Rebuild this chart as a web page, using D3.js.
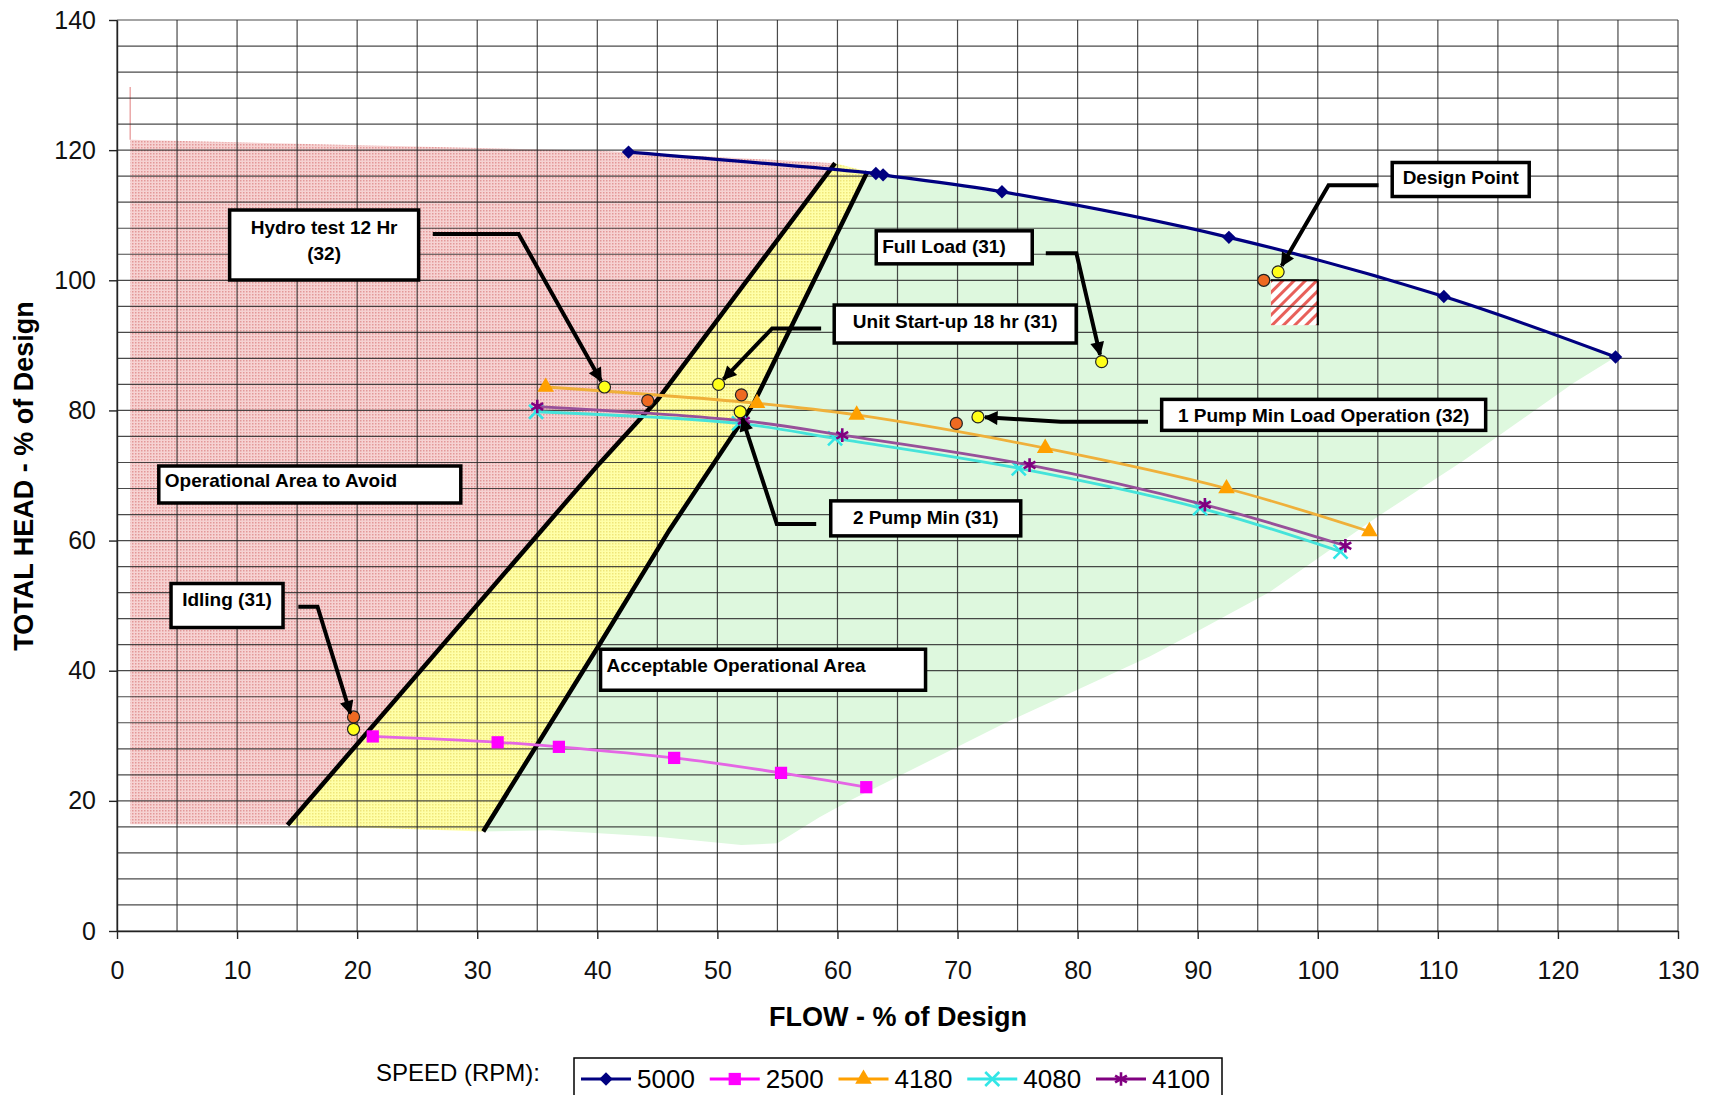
<!DOCTYPE html>
<html>
<head>
<meta charset="utf-8">
<script src="https://cdn.jsdelivr.net/npm/d3@7"></script>
<style>
  body { margin: 0; background: #fff; }
  svg { display: block; font-family: "Liberation Sans", Arial, sans-serif; }
</style>
</head>
<body>
<div id="chart"></div>
<script>
// ---- data ----
const speeds = ["5000", "2500", "4180", "4080", "4100"];

const flow5000 = [42.6, 63.2, 63.8, 73.7, 92.6, 110.5, 124.8];
const head5000 = [119.7, 116.4, 116.2, 113.6, 106.6, 97.5, 88.2];
const flow2500 = [21.3, 31.7, 36.8, 46.4, 55.3, 62.4];
const head2500 = [29.9, 29.0, 28.3, 26.6, 24.3, 22.1];
const flow4180 = [35.7, 53.3, 61.6, 77.3, 92.4, 104.3];
const head4180 = [83.6, 81.1, 79.3, 74.2, 68.0, 61.4];
const flow4080 = [34.9, 51.8, 59.8, 75.1, 90.2, 101.9];
const head4080 = [79.8, 78.0, 75.7, 71.1, 65.0, 58.3];
const flow4100 = [35.0, 52.2, 60.4, 76.0, 90.6, 102.3];
const head4100 = [80.6, 78.4, 76.2, 71.6, 65.5, 59.2];

// operating points
const yellowFlow = [19.7, 40.6, 50.1, 51.9, 71.7, 82.0, 96.7];
const yellowHead = [31.0, 83.6, 84.0, 79.8, 79.0, 87.5, 101.3];
const orangeFlow = [19.7, 44.2, 52.0, 69.9, 95.5];
const orangeHead = [32.9, 81.5, 82.4, 78.0, 100.0];

// zones (flow, head)
const avoidArea = [[1.1, 16.4], [1.1, 121.6], [10, 121.2], [40.2, 119.9], [59.8, 118.0], [45.0, 81.6], [40.2, 71.9], [34.9, 60.6], [14.2, 16.3]];
const avoidEdge = [[1.1, 121.6], [1.1, 129.7]];
const leftBound = [[14.2, 16.3], [34.9, 60.6], [40.2, 71.9], [45.0, 81.6], [59.8, 118.0]];
const rightBound = [[30.5, 15.3], [40.0, 43.5], [46.0, 61.6], [53.0, 81.0], [62.5, 116.7]];
const greenEdge = [[30.5, 15.3], [36, 15.5], [45, 14.5], [52, 13.2], [55, 13.5], [58.5, 17.5], [61, 20], [74, 32], [86, 42.2], [90.2, 46.3], [96, 52.1], [105, 63.7], [112, 72.1], [121.3, 84.2], [124.8, 88.2]];
const hatchArea = [[96.1, 93.1], [100, 100]];

const xTicks = d3.range(0, 131, 10);
const yTicks = d3.range(0, 141, 20);

// ---- layout ----
const W = 1719, H = 1095;
const svg = d3.select("#chart").append("svg").attr("width", W).attr("height", H);
const x = d3.scaleLinear().domain([0, 130]).range([117, 1678]);
const y = d3.scaleLinear().domain([0, 140]).range([931, 20]);
const line = d3.line().x(d => x(d[0])).y(d => y(d[1]));

const defs = svg.append("defs");
function dots(id, bg, dot) {
  const p = defs.append("pattern").attr("id", id).attr("patternUnits", "userSpaceOnUse")
    .attr("width", 3).attr("height", 3);
  p.append("rect").attr("width", 3).attr("height", 3).attr("fill", bg);
  p.append("rect").attr("width", 1.5).attr("height", 1.5).attr("fill", dot);
}
dots("redDots", "#F6D2D2", "#E39898");
dots("yellowDots", "#FFFFA8", "#EFE67A");
const hp = defs.append("pattern").attr("id", "hatch").attr("patternUnits", "userSpaceOnUse")
  .attr("width", 8).attr("height", 8).attr("patternTransform", "rotate(45)");
hp.append("rect").attr("width", 8).attr("height", 8).attr("fill", "#fff");
hp.append("rect").attr("width", 3).attr("height", 8).attr("fill", "#E8605A");
defs.append("marker").attr("id", "arrow").attr("viewBox", "0 0 10 10")
  .attr("refX", 9).attr("refY", 5).attr("markerUnits", "userSpaceOnUse")
  .attr("markerWidth", 17).attr("markerHeight", 14).attr("orient", "auto")
  .append("path").attr("d", "M0,0 L10,5 L0,10 Z").attr("fill", "#000");

// zones
const pts5000 = flow5000.map((f, i) => [f, head5000[i]]);
const greenArea = greenEdge
  .concat(pts5000.filter(d => d[0] > 63).reverse())
  .concat(rightBound.slice().reverse());
const yellowArea = leftBound.concat(rightBound.slice().reverse());

svg.append("path").attr("d", line(greenArea) + "Z").attr("fill", "#DEF8DE");
svg.append("path").attr("d", line(avoidArea) + "Z").attr("fill", "url(#redDots)");
svg.append("path").attr("d", line(yellowArea) + "Z").attr("fill", "url(#yellowDots)");
svg.append("path").attr("d", line(avoidEdge)).attr("stroke", "#EBA8A8").attr("stroke-width", 1.5);
svg.append("rect")
  .attr("x", x(hatchArea[0][0])).attr("y", y(hatchArea[1][1]))
  .attr("width", x(hatchArea[1][0]) - x(hatchArea[0][0]))
  .attr("height", y(hatchArea[0][1]) - y(hatchArea[1][1]))
  .attr("fill", "url(#hatch)");

// grid
const grid = svg.append("g").attr("stroke", "#2a2a2a").attr("stroke-width", 1.2).attr("stroke-opacity", 0.85);
grid.selectAll(".gx").data(d3.range(0, 131, 5)).join("line")
  .attr("x1", d => x(d)).attr("x2", d => x(d)).attr("y1", y(0)).attr("y2", y(140));
grid.selectAll(".gy").data(d3.range(0, 141, 4)).join("line")
  .attr("x1", x(0)).attr("x2", x(130)).attr("y1", d => y(d)).attr("y2", d => y(d));

// design point corner
svg.append("path")
  .attr("d", line([[hatchArea[0][0], hatchArea[1][1]], [hatchArea[1][0], hatchArea[1][1]], [hatchArea[1][0], hatchArea[0][1]]]))
  .attr("fill", "none").attr("stroke", "#000").attr("stroke-width", 2);

// zone boundaries
[leftBound, rightBound].forEach(b => {
  svg.append("path").attr("d", line(b)).attr("fill", "none")
    .attr("stroke", "#000").attr("stroke-width", 4.5);
});

// speed curves
const series = [
  { name: speeds[0], flow: flow5000, head: head5000, color: "#000080", line: "#000080", sym: "diamond" },
  { name: speeds[1], flow: flow2500, head: head2500, color: "#FF00FF", line: "#E466E4", sym: "square" },
  { name: speeds[2], flow: flow4180, head: head4180, color: "#FFA000", line: "#EFB03A", sym: "triangle" },
  { name: speeds[3], flow: flow4080, head: head4080, color: "#33E6E6", line: "#45E3DA", sym: "times" },
  { name: speeds[4], flow: flow4100, head: head4100, color: "#800080", line: "#97509A", sym: "asterisk" }
];
const curve = d3.line().x(d => x(d[0])).y(d => y(d[1])).curve(d3.curveCatmullRom.alpha(0.5));

function drawSymbol(g, type, color, cx, cy) {
  if (type === "diamond") {
    g.append("path").attr("d", d3.symbol(d3.symbolSquare, 90)())
      .attr("transform", `translate(${cx},${cy}) rotate(45)`).attr("fill", color);
  } else if (type === "square") {
    g.append("path").attr("d", d3.symbol(d3.symbolSquare, 150)())
      .attr("transform", `translate(${cx},${cy})`).attr("fill", color);
  } else if (type === "triangle") {
    g.append("path").attr("d", d3.symbol(d3.symbolTriangle, 120)())
      .attr("transform", `translate(${cx},${cy})`).attr("fill", color);
  } else {
    const s = type === "times" ? d3.symbolTimes : d3.symbolAsterisk;
    g.append("path").attr("d", d3.symbol(s, 130)())
      .attr("transform", `translate(${cx},${cy})`).attr("fill", "none")
      .attr("stroke", color).attr("stroke-width", 2.6);
  }
}

series.forEach(s => {
  const pts = s.flow.map((f, i) => [f, s.head[i]]);
  svg.append("path").attr("d", curve(pts)).attr("fill", "none")
    .attr("stroke", s.line).attr("stroke-width", s.name === "5000" ? 3.2 : 2.8);
  const g = svg.append("g");
  pts.forEach(p => drawSymbol(g, s.sym, s.color, x(p[0]), y(p[1])));
});

// operating points
svg.append("g").selectAll("circle").data(orangeFlow.map((f, i) => [f, orangeHead[i]])).join("circle")
  .attr("cx", d => x(d[0])).attr("cy", d => y(d[1])).attr("r", 6)
  .attr("fill", "#EE6A22").attr("stroke", "#222").attr("stroke-width", 1.2);
svg.append("g").selectAll("circle").data(yellowFlow.map((f, i) => [f, yellowHead[i]])).join("circle")
  .attr("cx", d => x(d[0])).attr("cy", d => y(d[1])).attr("r", 6)
  .attr("fill", "#FFFF1A").attr("stroke", "#222").attr("stroke-width", 1.2);

// callout boxes: box corner and leader in chart units, size in px
const notes = [
  { lines: ["Hydro test 12 Hr", "(32)"], at: [9.38, 110.8], w: 189, h: 70, ty: 17, align: "middle", lead: [[26.3, 107.1], [33.45, 107.1]], to: [40.6, 83.6] },
  { lines: ["Full Load (31)"], at: [63.23, 107.6], w: 156, h: 33, ty: 16, align: "start", lead: [[77.35, 104.15], [79.9, 104.15]], to: [82.0, 87.5] },
  { lines: ["Unit Start-up 18 hr (31)"], at: [59.73, 96.2], w: 242, h: 38, ty: 16, align: "middle", lead: [[58.64, 92.6], [54.56, 92.6]], to: [50.1, 84.0] },
  { lines: ["Design Point"], at: [106.2, 118.1], w: 137, h: 34, ty: 15, align: "middle", lead: [[105.06, 114.6], [100.9, 114.6]], to: [96.7, 101.3] },
  { lines: ["1 Pump Min Load Operation (32)"], at: [87.0, 81.7], w: 324, h: 31, ty: 15.5, align: "middle", lead: [[85.86, 78.27], [78.6, 78.27]], to: [71.7, 79.0] },
  { lines: ["2 Pump Min (31)"], at: [59.44, 66.1], w: 190, h: 35, ty: 16, align: "middle", lead: [[58.23, 62.55], [54.95, 62.55]], to: [51.9, 79.8] },
  { lines: ["Operational Area to Avoid"], at: [3.48, 71.46], w: 302, h: 37, ty: 14, align: "start" },
  { lines: ["Idling (31)"], at: [4.5, 53.4], w: 112, h: 44, ty: 16, align: "middle", lead: [[15.1, 49.84], [16.7, 49.84]], to: [19.6, 32.4] },
  { lines: ["Acceptable Operational Area"], at: [40.27, 43.3], w: 325, h: 41, ty: 16, align: "start" }
];

notes.forEach(n => {
  const bx = x(n.at[0]), by = y(n.at[1]);
  const g = svg.append("g");
  g.append("rect").attr("x", bx).attr("y", by).attr("width", n.w).attr("height", n.h)
    .attr("fill", "#fff").attr("stroke", "#000").attr("stroke-width", 3.5);
  n.lines.forEach((t, i) => {
    g.append("text").attr("x", n.align === "middle" ? bx + n.w / 2 : bx + 6)
      .attr("y", by + n.ty + i * 26).attr("dy", "0.35em")
      .attr("text-anchor", n.align).attr("font-size", 19).attr("font-weight", "bold")
      .text(t);
  });
  if (n.lead) {
    const p = n.lead.map(d => [x(d[0]), y(d[1])]);
    const last = p[p.length - 1], tx = x(n.to[0]), ty = y(n.to[1]);
    const dx = tx - last[0], dy = ty - last[1], len = Math.hypot(dx, dy);
    p.push([tx - dx / len * 7, ty - dy / len * 7]);
    svg.append("path").attr("d", d3.line()(p)).attr("fill", "none")
      .attr("stroke", "#000").attr("stroke-width", 4).attr("stroke-linejoin", "miter")
      .attr("marker-end", "url(#arrow)");
  }
});

// axes
const xAxis = svg.append("g").attr("transform", `translate(0,${y(0)})`)
  .call(d3.axisBottom(x).tickValues(xTicks).tickSize(8).tickPadding(22).tickSizeOuter(0));
const yAxis = svg.append("g").attr("transform", `translate(${x(0)},0)`)
  .call(d3.axisLeft(y).tickValues(yTicks).tickSize(8).tickPadding(13).tickSizeOuter(0));
[xAxis, yAxis].forEach(a => {
  a.select(".domain").attr("stroke", "#222").attr("stroke-width", 1.4);
  a.selectAll(".tick line").attr("stroke", "#222").attr("stroke-width", 1.4);
  a.selectAll("text").attr("font-size", 25).attr("fill", "#111")
    .attr("font-family", "'Liberation Sans', Arial, sans-serif");
});

svg.append("text").attr("transform", "translate(24,476) rotate(-90)")
  .attr("text-anchor", "middle").attr("dy", "0.35em")
  .attr("font-size", 27).attr("font-weight", "bold").text("TOTAL HEAD - % of Design");
svg.append("text").attr("x", 898).attr("y", 1017).attr("dy", "0.35em")
  .attr("text-anchor", "middle").attr("font-size", 27).attr("font-weight", "bold")
  .text("FLOW - % of Design");

// legend
svg.append("text").attr("x", 376).attr("y", 1073).attr("dy", "0.35em")
  .attr("font-size", 24).text("SPEED (RPM):");
svg.append("rect").attr("x", 574).attr("y", 1058).attr("width", 648).attr("height", 60)
  .attr("fill", "#fff").attr("stroke", "#000").attr("stroke-width", 1.5);
series.forEach((s, i) => {
  const lx = 581 + i * 128.75, ly = 1079;
  const g = svg.append("g");
  g.append("line").attr("x1", lx).attr("x2", lx + 50).attr("y1", ly).attr("y2", ly)
    .attr("stroke", s.color).attr("stroke-width", 3);
  drawSymbol(g, s.sym, s.color, lx + 25, ly);
  g.append("text").attr("x", lx + 56).attr("y", ly).attr("dy", "0.35em")
    .attr("font-size", 26).text(s.name);
});
</script>
</body>
</html>
